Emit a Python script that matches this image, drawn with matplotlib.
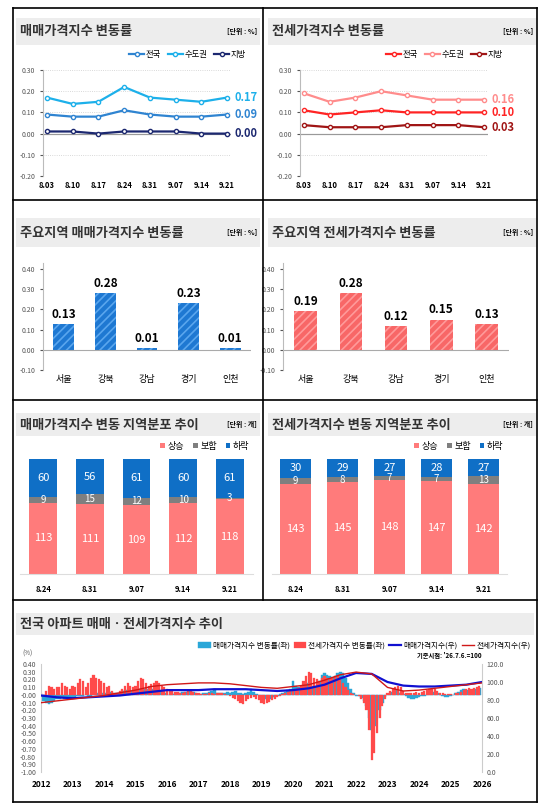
import numpy as np
import matplotlib
matplotlib.use('Agg')
import matplotlib.pyplot as plt
from matplotlib.lines import Line2D
from matplotlib.patches import Rectangle

plt.rcParams['font.family'] = ['Noto Sans CJK KR', 'DejaVu Sans']
plt.rcParams['hatch.linewidth'] = 1.2

W, H = 549, 808

# ---- Daten ----
weeks = ['8.03', '8.10', '8.17', '8.24', '8.31', '9.07', '9.14', '9.21']
sale_all = [0.09, 0.08, 0.08, 0.11, 0.09, 0.08, 0.08, 0.09]
sale_cap = [0.17, 0.14, 0.15, 0.22, 0.17, 0.16, 0.15, 0.17]
sale_loc = [0.01, 0.01, 0.00, 0.01, 0.01, 0.01, 0.00, 0.00]
rent_all = [0.11, 0.09, 0.10, 0.11, 0.10, 0.10, 0.10, 0.10]
rent_cap = [0.19, 0.15, 0.17, 0.20, 0.18, 0.16, 0.16, 0.16]
rent_loc = [0.04, 0.03, 0.03, 0.03, 0.04, 0.04, 0.04, 0.03]

regions = ['서울', '강북', '강남', '경기', '인천']
region_sale = [0.13, 0.28, 0.01, 0.23, 0.01]
region_rent = [0.19, 0.28, 0.12, 0.15, 0.13]

dist_weeks = ['8.24', '8.31', '9.07', '9.14', '9.21']
sale_up = [113, 111, 109, 112, 118]
sale_flat = [9, 15, 12, 10, 3]
sale_down = [60, 56, 61, 60, 61]
rent_up = [143, 145, 148, 147, 142]
rent_flat = [9, 8, 7, 7, 13]
rent_down = [30, 29, 27, 28, 27]

# monatliche Veränderungsraten 2012-2025 (%)
sale_rate = [
    -0.05, -0.08, -0.10, -0.12, -0.10, -0.08, -0.06, -0.05, -0.04, -0.05, -0.06, -0.05,
    -0.04, -0.03, -0.02, -0.02, -0.01, 0.00, -0.02, -0.01, 0.00, 0.01, 0.02, 0.02,
    0.02, 0.03, 0.04, 0.03, 0.02, 0.02, 0.03, 0.05, 0.06, 0.06, 0.05, 0.04,
    0.05, 0.06, 0.08, 0.08, 0.07, 0.07, 0.08, 0.08, 0.07, 0.06, 0.05, 0.03,
    0.01, 0.00, 0.01, 0.02, 0.02, 0.03, 0.04, 0.04, 0.05, 0.06, 0.04, 0.02,
    0.01, 0.01, 0.02, 0.03, 0.04, 0.05, 0.07, 0.03, 0.02, 0.02, 0.03, 0.04,
    0.03, 0.04, 0.05, 0.03, 0.02, 0.01, 0.02, 0.04, 0.07, 0.04, 0.01, -0.02,
    -0.04, -0.05, -0.06, -0.05, -0.04, -0.03, -0.01, 0.01, 0.02, 0.04, 0.06, 0.08,
    0.18, 0.12, 0.10, 0.05, 0.04, 0.10, 0.15, 0.12, 0.10, 0.12, 0.18, 0.26,
    0.28, 0.26, 0.24, 0.23, 0.25, 0.28, 0.30, 0.28, 0.22, 0.15, 0.08, 0.02,
    -0.01, -0.02, -0.04, -0.08, -0.15, -0.30, -0.45, -0.40, -0.30, -0.20, -0.10, -0.03,
    0.00, 0.02, 0.04, 0.06, 0.05, 0.03, 0.01, -0.02, -0.04, -0.05, -0.05, -0.04,
    -0.03, -0.02, -0.01, 0.01, 0.02, 0.03, 0.04, 0.02, 0.00, -0.02, -0.03, -0.03,
    -0.02, 0.00, 0.02, 0.04, 0.06, 0.08, 0.06, 0.05, 0.06, 0.07, 0.08, 0.09,
]
rent_rate = [
    0.02, 0.00, 0.05, 0.12, 0.10, 0.08, 0.10, 0.10, 0.15, 0.12, 0.10, 0.08,
    0.12, 0.10, 0.15, 0.20, 0.18, 0.10, 0.15, 0.22, 0.26, 0.22, 0.20, 0.18,
    0.15, 0.10, 0.12, 0.05, 0.03, 0.02, 0.05, 0.08, 0.12, 0.15, 0.12, 0.10,
    0.12, 0.18, 0.22, 0.20, 0.15, 0.12, 0.14, 0.16, 0.18, 0.15, 0.12, 0.10,
    0.08, 0.06, 0.05, 0.04, 0.04, 0.03, 0.03, 0.04, 0.05, 0.06, 0.04, 0.03,
    0.02, 0.01, 0.01, 0.01, 0.02, 0.02, 0.01, 0.02, 0.03, 0.02, 0.01, 0.00,
    -0.02, -0.04, -0.06, -0.08, -0.10, -0.12, -0.08, -0.06, -0.04, -0.03, -0.05, -0.07,
    -0.10, -0.12, -0.11, -0.09, -0.07, -0.05, -0.03, -0.01, 0.01, 0.03, 0.04, 0.05,
    0.06, 0.08, 0.09, 0.12, 0.18, 0.25, 0.30, 0.28, 0.22, 0.20, 0.18, 0.22,
    0.24, 0.22, 0.20, 0.22, 0.25, 0.24, 0.20, 0.15, 0.10, 0.06, 0.03, 0.01,
    0.00, -0.02, -0.05, -0.10, -0.20, -0.45, -0.85, -0.75, -0.50, -0.30, -0.15, -0.05,
    0.02, 0.05, 0.08, 0.10, 0.12, 0.10, 0.05, 0.03, 0.02, 0.02, 0.03, 0.04,
    0.03, 0.04, 0.05, 0.06, 0.07, 0.08, 0.07, 0.05, 0.03, 0.02, 0.01, 0.01,
    0.01, 0.00, 0.02, 0.03, 0.04, 0.06, 0.08, 0.09, 0.08, 0.09, 0.10, 0.11,
]
index_years = [2012.0, 2012.5, 2013.0, 2013.5, 2014.0, 2014.5, 2015.0, 2015.5, 2016.0, 2016.5,
               2017.0, 2017.5, 2018.0, 2018.5, 2019.0, 2019.5, 2020.0, 2020.5, 2021.0, 2021.5,
               2022.0, 2022.5, 2023.0, 2023.5, 2024.0, 2024.5, 2025.0, 2025.5, 2026.0]
sale_index = [85, 83, 82, 83, 84, 85, 87, 89, 91, 91, 91, 92, 92, 92, 91, 90, 91, 93, 97, 104,
              110, 109, 100, 96, 95, 95, 96, 97, 100]
rent_index = [77, 79, 81, 83, 85, 88, 91, 95, 97, 98, 99, 99, 98, 96, 94, 93, 95, 97, 102, 108,
              111, 109, 94, 90, 91, 93, 95, 97, 99]


def px_axes(x, y, w, h, **kw):
    return fig.add_axes([x / W, 1 - (y + h) / H, w / W, h / H], **kw)


def fig_line(x0, y0, x1, y1):
    fig.add_artist(Line2D([x0 / W, x1 / W], [1 - y0 / H, 1 - y1 / H], color='black', lw=1.2))


def title_band(x, y, w, h, title, unit=None):
    fig.add_artist(Rectangle((x / W, 1 - (y + h) / H), w / W, h / H, color='#EDEDED', lw=0))
    fig.text((x + 4) / W, 1 - (y + h / 2) / H, title, fontsize=9.5, fontweight='bold',
             color='#333333', va='center')
    if unit:
        fig.text((x + w - 3) / W, 1 - (y + h / 2) / H, unit, fontsize=5, fontweight='bold',
                 ha='right', va='center')


def style_axes(ax, ymin, ymax, step):
    ax.set_ylim(ymin, ymax)
    ax.set_yticks(np.round(np.arange(ymin, ymax + 0.001, step), 2))
    ax.yaxis.set_major_formatter(matplotlib.ticker.FormatStrFormatter('%.2f'))
    ax.tick_params(axis='y', labelsize=5, colors='#555555', length=2)
    ax.tick_params(axis='x', labelsize=5.5, length=0)
    for s in ['top', 'right']:
        ax.spines[s].set_visible(False)
    ax.spines['left'].set_color('#BBBBBB')
    ax.spines['bottom'].set_visible(False)
    ax.axhline(0, color='#AAAAAA', lw=0.8)


fig = plt.figure(figsize=(W / 100, H / 100), dpi=100)

# Rahmen
fig_line(13, 8, 537, 8)
fig_line(13, 802, 537, 802)
fig_line(13, 8, 13, 802)
fig_line(537, 8, 537, 802)
for yy in [200, 400, 600]:
    fig_line(13, yy, 537, yy)
fig_line(263, 8, 263, 600)

# ---- Panel 1 & 2: Linien ----
line_panels = [
    (16, 244, '매매가격지수 변동률', [sale_all, sale_cap, sale_loc], ['#2F84D1', '#1DB0EA', '#1C2870'], 43, 188),
    (268, 268, '전세가격지수 변동률', [rent_all, rent_cap, rent_loc], ['#FF2424', '#FF8C8C', '#A01515'], 300, 188),
]
for bx, bw, title, series, colors, axx, axw in line_panels:
    title_band(bx, 18, bw, 27, title, '[단위 : %]')
    ax = px_axes(axx, 70, axw, 106)
    style_axes(ax, -0.20, 0.30, 0.10)
    ax.axhline(0, color='#999999', lw=0.8)
    for yv in np.arange(-0.2, 0.31, 0.1):
        if abs(yv) > 1e-9:
            ax.axhline(yv, color='#CCCCCC', lw=0.6, ls=':')
    x = np.arange(len(weeks))
    names = ['전국', '수도권', '지방']
    for s, c, n in zip(series, colors, names):
        ax.plot(x, s, '-o', color=c, lw=1.6, ms=3, mfc='white', mec=c, mew=1, label=n)
        ax.text(x[-1] + 0.3, s[-1], f'{s[-1]:.2f}', color=c, fontsize=8, fontweight='bold',
                va='center', ha='left')
    ax.set_xticks(x)
    ax.set_xticklabels(weeks, fontweight='bold')
    ax.set_xlim(-0.15, len(weeks) - 0.85)
    ax.legend(loc='lower right', bbox_to_anchor=(1.12, 1.03), ncol=3, frameon=False, fontsize=6,
              handlelength=1.8, columnspacing=0.8, handletextpad=0.2)

# ---- Panel 3 & 4: Balken ----
bar_panels = [
    (16, 244, '주요지역 매매가격지수 변동률', region_sale, '#1E78D2', '#5AA6EE', 43, 208),
    (268, 268, '주요지역 전세가격지수 변동률', region_rent, '#F86767', '#FF9A9A', 283, 226),
]
for bx, bw, title, vals, fc, hc, axx, axw in bar_panels:
    title_band(bx, 218, bw, 29, title, '[단위 : %]')
    ax = px_axes(axx, 263, axw, 107)
    style_axes(ax, -0.10, 0.40, 0.10)
    ax.set_ylim(-0.10, 0.43)
    x = np.arange(len(regions))
    ax.bar(x, vals, width=0.5, color=fc, edgecolor=hc, hatch='////', lw=0)
    for xi, v in zip(x, vals):
        ax.text(xi, v + 0.015, f'{v:.2f}', ha='center', va='bottom', fontsize=8.5, fontweight='bold')
    ax.set_xticks(x)
    ax.set_xticklabels(regions, fontsize=6.5)
    ax.set_xlim(-0.5, len(regions) - 0.5)

# ---- Panel 5 & 6: gestapelte Balken ----
dist_panels = [
    (16, 244, '매매가격지수 변동 지역분포 추이', sale_up, sale_flat, sale_down, 20, 233, 0.6),
    (268, 268, '전세가격지수 변동 지역분포 추이', rent_up, rent_flat, rent_down, 272, 235, 0.65),
]
for bx, bw, title, up, flat, down, axx, axw, wid in dist_panels:
    title_band(bx, 413, bw, 23, title, '[단위 : 개]')
    ax = px_axes(axx, 459, axw, 115)
    x = np.arange(len(dist_weeks))
    up_a, flat_a, down_a = np.array(up), np.array(flat), np.array(down)
    ax.bar(x, up_a, width=wid, color='#FF7B7B', label='상승')
    ax.bar(x, flat_a, bottom=up_a, width=wid, color='#7F7F7F', label='보합')
    ax.bar(x, down_a, bottom=up_a + flat_a, width=wid, color='#0F6FC6', label='하락')
    for xi in x:
        ax.text(xi, up_a[xi] / 2, str(up_a[xi]), ha='center', va='center', color='white', fontsize=8)
        ax.text(xi, up_a[xi] + flat_a[xi] / 2, str(flat_a[xi]), ha='center', va='center',
                color='white', fontsize=7)
        ax.text(xi, up_a[xi] + flat_a[xi] + down_a[xi] / 2, str(down_a[xi]), ha='center',
                va='center', color='white', fontsize=8)
    ax.set_ylim(0, 182)
    ax.set_xlim(-0.5, len(x) - 0.5)
    ax.set_yticks([])
    ax.set_xticks(x)
    ax.set_xticklabels(dist_weeks, fontsize=5.5, fontweight='bold')
    ax.tick_params(axis='x', length=0, pad=8)
    for s in ['top', 'right', 'left']:
        ax.spines[s].set_visible(False)
    ax.spines['bottom'].set_color('#DDDDDD')
    ax.legend(loc='lower right', bbox_to_anchor=(1.02, 1.0), ncol=3, frameon=False, fontsize=6.5,
              handlelength=0.5, handleheight=0.5, columnspacing=1.0, handletextpad=0.3)

# ---- Panel 7: Zeitreihe ----
title_band(16, 613, 518, 22, '전국 아파트 매매ㆍ전세가격지수 추이')
ax = px_axes(41, 664, 441, 108)
months = 2012 + np.arange(len(sale_rate)) / 12
ax.bar(months, sale_rate, width=1 / 12, color='#2AA7D8', edgecolor='#2AA7D8', lw=0.3,
       label='매매가격지수 변동률(좌)')
ax.bar(months, rent_rate, width=1 / 12 * 0.8, color='#FF4A4A', edgecolor='#FF4A4A', lw=0.2,
       label='전세가격지수 변동률(좌)')
ax.set_ylim(-1.0, 0.4)
ax.set_yticks(np.round(np.arange(-1.0, 0.41, 0.1), 2))
ax.yaxis.set_major_formatter(matplotlib.ticker.FormatStrFormatter('%.2f'))
ax.tick_params(axis='y', labelsize=5, colors='#555555', length=0)
ax.set_xlim(2012, 2026)
ax.set_xticks(range(2012, 2027))
ax.set_xticklabels([str(y) for y in range(2012, 2027)], fontsize=6, fontweight='bold')
ax.tick_params(axis='x', length=0, pad=6)
for s in ['top', 'right', 'bottom']:
    ax.spines[s].set_visible(False)
ax.spines['left'].set_color('#CCCCCC')
ax.text(-0.02, 1.08, '(%)', transform=ax.transAxes, fontsize=4.5, color='#555555', ha='right')
ax2 = ax.twinx()
ax2.plot(index_years, sale_index, color='#1010D0', lw=1.6, label='매매가격지수(우)')
ax2.plot(index_years, rent_index, color='#D01818', lw=1.0, label='전세가격지수(우)')
ax2.set_ylim(0, 120)
ax2.set_yticks(np.arange(0, 121, 20))
ax2.yaxis.set_major_formatter(matplotlib.ticker.FormatStrFormatter('%.1f'))
ax2.tick_params(axis='y', labelsize=5, colors='#555555', length=0)
for s in ['top', 'left', 'bottom']:
    ax2.spines[s].set_visible(False)
ax2.spines['right'].set_color('#CCCCCC')
h1, l1 = ax.get_legend_handles_labels()
h2, l2 = ax2.get_legend_handles_labels()
ax.legend(h1 + h2, l1 + l2, loc='center right', bbox_to_anchor=(1.12, 1.17), ncol=4, frameon=False,
          fontsize=5.5, handlelength=1.6, columnspacing=0.5, handletextpad=0.3, borderpad=0.1)
ax.text(1.0, 1.06, "기준시점: '26.7.6.=100", transform=ax.transAxes, fontsize=4.5,
        fontweight='bold', ha='right')

fig.savefig('out.png', dpi=100)
